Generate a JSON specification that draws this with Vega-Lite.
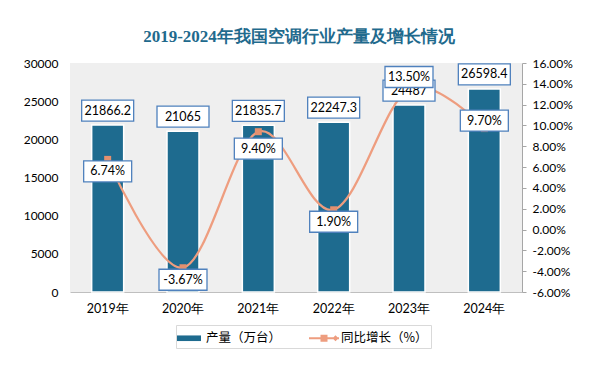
{
  "$schema": "https://vega.github.io/schema/vega-lite/v6.json",
  "width": 452,
  "height": 229,
  "autosize": {"type": "none"},
  "padding": {"left": 70, "top": 63, "right": 74, "bottom": 79},
  "background": "white",
  "title": {
    "text": "2019-2024年我国空调行业产量及增长情况",
    "font": "Liberation Serif",
    "fontSize": 17,
    "fontWeight": "bold",
    "color": "#1F6A8D",
    "anchor": "middle",
    "frame": "group",
    "offset": 11,
    "dx": 3
  },
  "data": {
    "values": [
      {"year": "2019年", "prod": 21866.2, "growth": 0.0674},
      {"year": "2020年", "prod": 21065, "growth": -0.0367},
      {"year": "2021年", "prod": 21835.7, "growth": 0.094},
      {"year": "2022年", "prod": 22247.3, "growth": 0.019},
      {"year": "2023年", "prod": 24487, "growth": 0.135},
      {"year": "2024年", "prod": 26598.4, "growth": 0.097}
    ]
  },
  "config": {
    "view": {"fill": "#EFEFEF", "stroke": null},
    "axis": {"labelFont": "Lato", "labelFontSize": 12, "labelColor": "#000000", "grid": false, "title": null},
    "locale": {"number": {"decimal": ".", "thousands": ",", "grouping": [3], "currency": ["$", ""], "minus": "-"}}
  },
  "encoding": {
    "x": {
      "field": "year",
      "type": "nominal",
      "sort": null,
      "title": null,
      "axis": {"labelAngle": 0, "ticks": false, "domain": true, "domainColor": "#BFBFBF", "labelPadding": 10, "labelFontSize": 12.5}
    }
  },
  "layer": [
    {
      "mark": {"type": "bar", "size": 32, "stroke": "white", "strokeWidth": 1.5},
      "encoding": {
        "y": {
          "field": "prod",
          "type": "quantitative",
          "scale": {"domain": [0, 30000], "nice": false},
          "axis": {"orient": "left", "values": [0, 5000, 10000, 15000, 20000, 25000, 30000], "format": "d", "domain": false, "ticks": false, "labelPadding": 12}
        },
        "color": {
          "datum": "产量（万台）",
          "scale": {"domain": ["产量（万台）", "同比增长（%）"], "range": ["#1E6B8F", "#EE9D7F"]},
          "legend": {
            "title": null,
            "orient": "none",
            "legendX": 106,
            "legendY": 262,
            "direction": "horizontal",
            "strokeColor": "#D9D9D9",
            "padding": 3,
            "symbolSize": 400,
            "labelOffset": 7,
            "columnPadding": 27,
            "labelFont": "Noto Sans CJK SC",
            "labelFontSize": 12.5,
            "labelColor": "#000000",
            "encode": {
              "symbols": {
                "enter": {
                  "shape": {"signal": "datum.value === '产量（万台）' ? 'M-1.2,-0.28H1.2V0.28H-1.2Z' : 'M-1.5,-0.1H1.5V0.1H-1.5Z M-0.35,-0.35H0.35V0.35H-0.35Z M1.15,-0.3L1.45,0L1.15,0.3L0.85,0Z'"}
                },
                "update": {
                  "shape": {"signal": "datum.value === '产量（万台）' ? 'M-1.2,-0.28H1.2V0.28H-1.2Z' : 'M-1.5,-0.1H1.5V0.1H-1.5Z M-0.35,-0.35H0.35V0.35H-0.35Z M1.15,-0.3L1.45,0L1.15,0.3L0.85,0Z'"},
                  "fill": {"signal": "datum.value === '产量（万台）' ? '#1E6B8F' : '#EE9D7F'"},
                  "fillOpacity": {"value": 1},
                  "strokeWidth": {"value": 0},
                  "opacity": {"value": 1}
                }
              }
            }
          }
        }
      }
    },
    {
      "mark": {"type": "line", "interpolate": "cardinal", "strokeWidth": 2.25},
      "encoding": {
        "y": {
          "field": "growth",
          "type": "quantitative",
          "scale": {"domain": [-0.06, 0.16], "nice": false},
          "axis": {
            "orient": "right",
            "values": [-0.06, -0.04, -0.02, 0, 0.02, 0.04, 0.06, 0.08, 0.1, 0.12, 0.14, 0.16],
            "format": ".2%",
            "domain": true,
            "domainColor": "#A6A6A6",
            "ticks": true,
            "tickColor": "#A6A6A6",
            "tickSize": 4,
            "labelPadding": 6
          }
        },
        "color": {
          "datum": "同比增长（%）",
          "legend": {
            "title": null,
            "orient": "none",
            "legendX": 106,
            "legendY": 262,
            "direction": "horizontal",
            "strokeColor": "#D9D9D9",
            "padding": 3,
            "symbolSize": 400,
            "labelOffset": 7,
            "columnPadding": 27,
            "labelFont": "Noto Sans CJK SC",
            "labelFontSize": 12.5,
            "labelColor": "#000000",
            "encode": {
              "symbols": {
                "enter": {
                  "shape": {"signal": "datum.value === '产量（万台）' ? 'M-1.2,-0.28H1.2V0.28H-1.2Z' : 'M-1.5,-0.1H1.5V0.1H-1.5Z M-0.35,-0.35H0.35V0.35H-0.35Z M1.15,-0.3L1.45,0L1.15,0.3L0.85,0Z'"}
                },
                "update": {
                  "shape": {"signal": "datum.value === '产量（万台）' ? 'M-1.2,-0.28H1.2V0.28H-1.2Z' : 'M-1.5,-0.1H1.5V0.1H-1.5Z M-0.35,-0.35H0.35V0.35H-0.35Z M1.15,-0.3L1.45,0L1.15,0.3L0.85,0Z'"},
                  "fill": {"signal": "datum.value === '产量（万台）' ? '#1E6B8F' : '#EE9D7F'"},
                  "fillOpacity": {"value": 1},
                  "strokeWidth": {"value": 0},
                  "opacity": {"value": 1}
                }
              }
            }
          }
        }
      }
    },
    {
      "mark": {"type": "point", "shape": "square", "filled": true, "size": 49, "color": "#E3906F", "opacity": 1},
      "encoding": {
        "y": {"field": "growth", "type": "quantitative", "scale": {"domain": [-0.06, 0.16], "nice": false}, "axis": null}
      }
    },
    {
      "mark": {"type": "point", "shape": "M-1,-0.404H1V0.404H-1Z", "size": 2704, "filled": true, "fill": "white", "stroke": "#4F81BD", "strokeWidth": 1.3, "opacity": 1, "yOffset": -14.5},
      "encoding": {
        "y": {"field": "prod", "type": "quantitative", "scale": {"domain": [0, 30000], "nice": false}, "axis": null}
      }
    },
    {
      "mark": {"type": "text", "font": "Lato", "fontSize": 12.5, "color": "#000000", "baseline": "middle", "align": "center", "yOffset": -14.5},
      "encoding": {
        "y": {"field": "prod", "type": "quantitative", "scale": {"domain": [0, 30000], "nice": false}, "axis": null},
        "text": {"field": "prod", "type": "nominal"}
      }
    },
    {
      "mark": {"type": "point", "shape": "M-1,-0.4375H1V0.4375H-1Z", "size": 2304, "filled": true, "fill": "white", "stroke": "#4F81BD", "strokeWidth": 1.3, "opacity": 1,
        "yOffset": {"expr": "datum.year === '2023年' ? -12 : datum.year === '2024年' ? -8 : datum.year === '2021年' ? 17 : 12"}},
      "encoding": {
        "y": {"field": "growth", "type": "quantitative", "scale": {"domain": [-0.06, 0.16], "nice": false}, "axis": null}
      }
    },
    {
      "mark": {"type": "text", "font": "Lato", "fontSize": 12.5, "color": "#000000", "baseline": "middle", "align": "center",
        "yOffset": {"expr": "datum.year === '2023年' ? -12 : datum.year === '2024年' ? -8 : datum.year === '2021年' ? 17 : 12"}},
      "encoding": {
        "y": {"field": "growth", "type": "quantitative", "scale": {"domain": [-0.06, 0.16], "nice": false}, "axis": null},
        "text": {"field": "growth", "type": "quantitative", "format": ".2%"}
      }
    }
  ],
  "resolve": {"scale": {"y": "independent"}}
}
